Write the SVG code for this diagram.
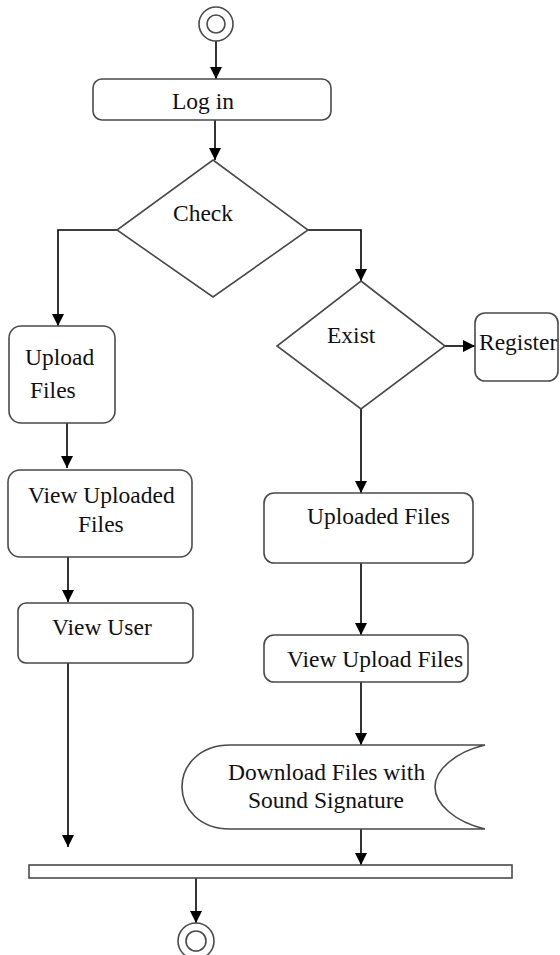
<svg xmlns="http://www.w3.org/2000/svg" width="560" height="955" viewBox="0 0 560 955">
<style>
.n{fill:#fff;stroke:#4a4a4a;stroke-width:1.6}
.c{fill:none;stroke:#000;stroke-width:1.6}
.t{font-family:"Liberation Serif","Times New Roman",serif;font-size:23.5px;fill:#111}
</style>
<defs>
<marker id="ah" markerUnits="userSpaceOnUse" markerWidth="12" markerHeight="12" refX="12" refY="6" orient="auto">
<path d="M0,0 L12,6 L0,12 z" fill="#000"/>
</marker>
</defs>
<g id="connectors">
<path class="c" d="M216,41 L216,79" marker-end="url(#ah)"/>
<path class="c" d="M215,120 L215,160" marker-end="url(#ah)"/>
<path class="c" d="M117,230 L58,230 L58,326" marker-end="url(#ah)"/>
<path class="c" d="M308,230 L361,230 L361,281" marker-end="url(#ah)"/>
<path class="c" d="M445,346 L475,346" marker-end="url(#ah)"/>
<path class="c" d="M361,409 L361,493" marker-end="url(#ah)"/>
<path class="c" d="M361,563 L361,635" marker-end="url(#ah)"/>
<path class="c" d="M361,682 L361,745" marker-end="url(#ah)"/>
<path class="c" d="M361,829 L361,865" marker-end="url(#ah)"/>
<path class="c" d="M67,423 L67,468" marker-end="url(#ah)"/>
<path class="c" d="M68,557 L68,602" marker-end="url(#ah)"/>
<path class="c" d="M68,663 L68,847" marker-end="url(#ah)"/>
<path class="c" d="M196,878 L196,923" marker-end="url(#ah)"/>
</g>
<g id="start">
<circle class="n" cx="216" cy="24" r="17"/>
<circle class="n" cx="216" cy="24" r="9"/>
</g>
<g id="login">
<rect class="n" x="93" y="79" width="238" height="41" rx="9"/>
<text class="t" x="172" y="109">Log in</text>
</g>
<g id="check">
<polygon class="n" points="213,160 308,230 213,297 117,230"/>
<text class="t" x="173" y="221">Check</text>
</g>
<g id="exist">
<polygon class="n" points="361,281 445,346 361,409 277,346"/>
<text class="t" x="327" y="343">Exist</text>
</g>
<g id="register">
<rect class="n" x="475" y="313" width="83" height="68" rx="10"/>
<text class="t" x="479" y="350">Register</text>
</g>
<g id="upload-files">
<rect class="n" x="9" y="326" width="106" height="97" rx="12"/>
<text class="t" x="25" y="365">Upload</text>
<text class="t" x="30" y="398">Files</text>
</g>
<g id="view-uploaded-files">
<rect class="n" x="8" y="470" width="184" height="87" rx="12"/>
<text class="t" x="28" y="503">View Uploaded</text>
<text class="t" x="78" y="532">Files</text>
</g>
<g id="view-user">
<rect class="n" x="18" y="603" width="175" height="60" rx="8"/>
<text class="t" x="52" y="635">View User</text>
</g>
<g id="uploaded-files">
<rect class="n" x="264" y="493" width="209" height="70" rx="10"/>
<text class="t" x="307" y="524">Uploaded Files</text>
</g>
<g id="view-upload-files">
<rect class="n" x="264" y="635" width="204" height="47" rx="10"/>
<text class="t" x="287" y="667">View Upload Files</text>
</g>
<g id="download">
<path class="n" d="M230,745 L485,745 C455,752 435,770 435,787 C435,804 455,822 485,829 L230,829 C200,829 182,809 182,787 C182,765 200,745 230,745 Z"/>
<text class="t" x="228" y="780">Download Files with</text>
<text class="t" x="248" y="808">Sound Signature</text>
</g>
<g id="join-bar">
<rect class="n" x="29" y="865" width="483" height="13"/>
</g>
<g id="end">
<circle class="n" cx="196" cy="941" r="18"/>
<circle class="n" cx="196" cy="941" r="10"/>
</g>
</svg>
